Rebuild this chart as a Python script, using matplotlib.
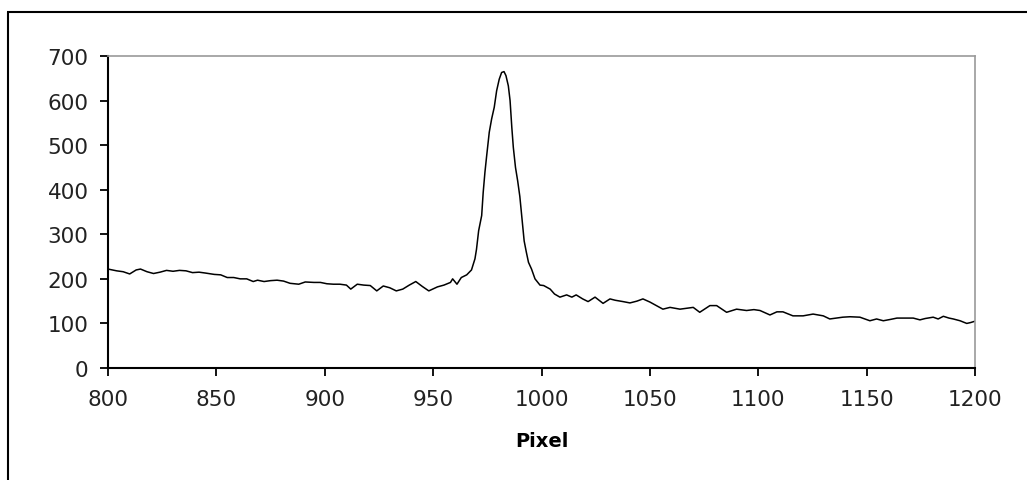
import matplotlib
matplotlib.use("Agg")
import matplotlib.pyplot as plt
from matplotlib.lines import Line2D

# Data (pixel vs. counts)
pixel = [800, 801, 804, 807, 810, 813, 815, 818, 821, 824, 827, 830, 833, 836,
         839, 842, 845, 849, 852, 855, 858, 861, 864, 867, 869, 872, 875, 878,
         881, 884, 888, 891, 895, 898, 901, 904, 907, 910, 912, 915, 918, 921,
         924, 927, 930, 933, 936, 939, 942, 945, 948, 952, 955, 958, 959, 961,
         963, 965.5, 967.7, 969.3, 970, 971, 972.4, 973.1, 973.9, 974.7, 975.9,
         977, 978.2, 979.3, 980.5, 981.6, 982.7, 983.6, 984.7, 985.5, 986.3,
         987, 988, 989, 990, 990.8, 992, 993, 994, 995.4, 997, 999.3, 1001,
         1004, 1006, 1008.5, 1011.6, 1014, 1016, 1019, 1021.5, 1024.7, 1028.4,
         1031.6, 1034, 1037.6, 1040.8, 1044, 1046.8, 1050, 1053, 1056, 1059.3,
         1063.9, 1067, 1070, 1073, 1077.7, 1080.8, 1085.4, 1090, 1094.6, 1098,
         1100.8, 1105.4, 1108.6, 1111.4, 1116, 1120.7, 1125.3, 1130, 1133,
         1136.2, 1139, 1142.3, 1146.9, 1151.5, 1154.6, 1157.7, 1161, 1164,
         1168, 1171.5, 1174.6, 1177, 1180.7, 1183, 1185.4, 1188, 1190, 1193.1,
         1196.2, 1198, 1200]
counts = [222, 221, 218, 216, 211, 220, 222, 216, 212, 215, 219, 217, 219, 218,
          214, 215, 213, 210, 209, 203, 203, 200, 200, 194, 197, 194, 196, 197,
          195, 190, 188, 193, 192, 192, 189, 188, 188, 186, 177, 188, 186, 185,
          173, 184, 180, 173, 177, 186, 194, 183, 173, 182, 186, 192, 200, 188,
          203, 209, 220, 245, 266, 308, 342, 394, 439, 476, 529,
          559, 585, 622, 648, 663, 665, 656, 633, 600, 540,
          495, 450, 420, 385, 345, 285, 260, 237, 222, 200, 186, 185,
          177, 166, 159, 164, 159, 164, 155, 149, 159, 145,
          155, 152, 149, 146, 150, 155, 148, 140, 132, 136,
          132, 134, 136, 125, 140, 140, 125, 132, 129, 131,
          129, 119, 126, 126, 117, 117, 121, 117, 110,
          112, 114, 115, 114, 106, 110, 106, 109, 112,
          112, 112, 108, 111, 114, 110, 116, 112, 110, 106,
          100, 102, 105]

x_ticks = [800, 850, 900, 950, 1000, 1050, 1100, 1150, 1200]
y_ticks = [0, 100, 200, 300, 400, 500, 600, 700]
x_label = "Pixel"

W, H = 1027, 481
fig = plt.figure(figsize=(W / 100, H / 100), dpi=100)
fig.patch.set_facecolor("white")

# outer frame (only top and left visible)
fig.add_artist(Line2D([8 / W, 8 / W], [0, 1 - 12.5 / H], transform=fig.transFigure,
                      color="black", lw=1.5, solid_capstyle="butt"))
fig.add_artist(Line2D([7.3 / W, 1], [1 - 12.5 / H, 1 - 12.5 / H], transform=fig.transFigure,
                      color="black", lw=1.5, solid_capstyle="butt"))

ax = fig.add_axes([108 / W, 1 - 369 / H, (975 - 108) / W, (369 - 57) / H])
ax.plot(pixel, counts, color="black", lw=1.1)

ax.set_xlim(800, 1200)
ax.set_ylim(0, 700)
ax.set_xticks(x_ticks)
ax.set_yticks(y_ticks)
ax.set_xticklabels([str(v) for v in x_ticks])
ax.set_yticklabels([str(v) for v in y_ticks])

for s in ("left", "bottom"):
    ax.spines[s].set_color("black")
    ax.spines[s].set_linewidth(1.5)
for s in ("top", "right"):
    ax.spines[s].set_color("#9a9a9a")
    ax.spines[s].set_linewidth(1.2)

ax.tick_params(axis="both", direction="out", length=6, width=1.3, color="black",
               labelsize=15.5, labelcolor="#222222")
ax.tick_params(axis="x", pad=9)
ax.tick_params(axis="y", pad=8)

ax.set_xlabel(x_label, fontsize=14, fontweight="bold", labelpad=16, color="black")

fig.savefig("out.png", dpi=100, facecolor="white")
